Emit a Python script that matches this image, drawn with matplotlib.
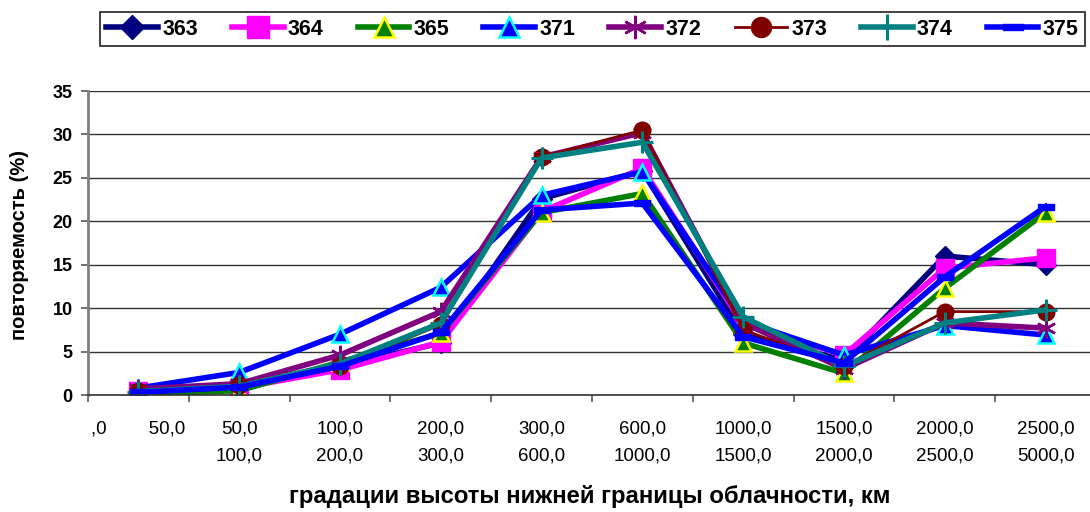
import matplotlib
matplotlib.use("Agg")
import matplotlib.pyplot as plt
from matplotlib.path import Path
import numpy as np

plt.rcParams['font.family'] = ['Liberation Sans', 'DejaVu Sans']

# Height gradations of the cloud base (category labels)
categories = [",0        50,0", "50,0\n100,0", "100,0\n200,0", "200,0\n300,0",
              "300,0\n600,0", "600,0\n1000,0", "1000,0\n1500,0",
              "1500,0\n2000,0", "2000,0\n2500,0", "2500,0\n5000,0"]

# Repeatability (%) per station
s363 = [0.3, 0.8, 3.3, 6.0, 22.6, 25.8, 7.0, 4.0, 16.0, 15.0]
s364 = [0.5, 0.8, 2.9, 6.1, 21.1, 26.1, 8.1, 4.6, 14.6, 15.8]
s365 = [0.1, 0.5, 3.8, 7.1, 21.0, 23.2, 6.0, 2.5, 12.3, 21.0]
s371 = [0.8, 2.6, 7.0, 12.4, 23.0, 25.7, 8.5, 4.6, 8.0, 6.9]
s372 = [0.7, 1.3, 4.6, 9.6, 27.4, 30.2, 8.3, 3.0, 8.3, 7.7]
s373 = [0.5, 1.1, 3.3, 8.1, 27.4, 30.5, 7.5, 3.3, 9.6, 9.6]
s374 = [0.4, 1.0, 3.6, 8.3, 27.3, 29.1, 9.0, 3.3, 8.3, 9.8]
s375 = [0.3, 0.9, 3.3, 7.2, 21.3, 22.1, 6.7, 3.7, 13.6, 21.7]

series_names = ["363", "364", "365", "371", "372", "373", "374", "375"]

dash = Path([(-1, -0.35), (1, -0.35), (1, 0.35), (-1, 0.35), (-1, -0.35)],
            [Path.MOVETO, Path.LINETO, Path.LINETO, Path.LINETO, Path.CLOSEPOLY])

styles = [
    dict(color='#000080', marker='D', ms=10, mfc='#000080', mec='#000080', lw=4.0),
    dict(color='#FF00FF', marker='s', ms=13, mfc='#FF00FF', mec='#FF00FF', lw=4.0),
    dict(color='#008000', marker='^', ms=12, mfc='#008000', mec='#FFFF00', mew=1.8, lw=4.0),
    dict(color='#0000FF', marker='^', ms=12, mfc='#0000FF', mec='#00FFFF', mew=1.8, lw=4.0),
    dict(color='#800080', marker=(6, 2, 0), ms=14, mfc='#800080', mec='#800080', mew=1.8, lw=4.0),
    dict(color='#800000', marker='o', ms=12, mfc='#800000', mec='#800000', lw=2.0),
    dict(color='#008080', marker='+', ms=16, mfc='#008080', mec='#008080', mew=2.2, lw=4.0),
    dict(color='#0000FF', marker=dash, ms=12, mfc='#0000FF', mec='#0000FF', lw=4.0),
]

data = [s363, s364, s365, s371, s372, s373, s374, s375]

fig = plt.figure(figsize=(10.9, 5.12), dpi=100)
ax = fig.add_axes([88 / 1090, 1 - 395 / 512, (1096 - 88) / 1090, (395 - 91) / 512])

x = np.arange(len(categories))
handles = []
for name, vals, st in zip(series_names, data, styles):
    h, = ax.plot(x, vals, label=name, solid_joinstyle='miter', **st)
    handles.append(h)

ax.set_xlim(-0.5, len(categories) - 0.5)
ax.set_ylim(0, 35)
ax.set_yticks(np.arange(0, 36, 5))
ax.yaxis.grid(True, color='#333333', lw=1.0)
ax.set_axisbelow(True)

ax.set_xticks(x)
ax.set_xticklabels(categories, fontsize=13.5, linespacing=1.8, va='top')
ax.set_xticks(np.arange(-0.5, len(categories), 1), minor=True)
ax.tick_params(axis='x', which='major', length=0, pad=18)
ax.tick_params(axis='x', which='minor', length=5, width=1.2, color='#555555', direction='out')
ax.tick_params(axis='y', length=5, width=1.2, color='#555555', direction='out', pad=6)
for lbl in ax.get_yticklabels():
    lbl.set_fontweight('bold')
    lbl.set_fontsize(13)

for side in ('top', 'right'):
    ax.spines[side].set_visible(False)
ax.spines['left'].set_color('#808080')
ax.spines['left'].set_linewidth(2.0)
ax.spines['bottom'].set_color('#333333')
ax.spines['bottom'].set_linewidth(1.2)

fig.text(20 / 1090, 1 - 245 / 512, "повторяемость (%)", rotation=90,
         ha='center', va='center', fontsize=14.5, fontweight='bold')
fig.text(590 / 1090, 1 - 497 / 512, "градации высоты нижней границы облачности, км",
         ha='center', va='center', fontsize=17.2, fontweight='bold')

leg = fig.legend(handles=handles, labels=series_names, ncol=8,
                 loc='lower left', mode='expand',
                 bbox_to_anchor=(100 / 1090, 1 - 46 / 512, 985 / 1090, 41 / 512),
                 frameon=True, fancybox=False, edgecolor='black',
                 prop=dict(weight='bold', size=15.5), handlelength=2.4,
                 handletextpad=0.2, columnspacing=0.6, borderpad=0.3,
                 borderaxespad=0, markerscale=1.2)
leg.get_frame().set_linewidth(1.3)

fig.savefig("out.png", dpi=100)
